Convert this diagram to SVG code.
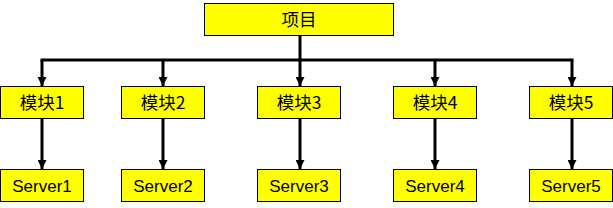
<svg xmlns="http://www.w3.org/2000/svg" width="613" height="208" viewBox="0 0 613 208">
<style>
.box{fill:#ffff00;stroke:#000;stroke-width:1}
.t{font-family:"Liberation Sans","Noto Sans CJK SC",sans-serif;font-size:17px;fill:#000;text-anchor:middle}
.c{font-family:"Noto Sans CJK SC",sans-serif;font-size:17.5px}
.ln{fill:none;stroke:#000;stroke-width:3}
</style>
<defs>
<marker id="ah" viewBox="0 0 10 10" refX="10" refY="5" markerWidth="3" markerHeight="3" orient="auto" markerUnits="strokeWidth">
<path d="M0,0 L10,5 L0,10 z" fill="#000"/>
</marker>
</defs>
<g id="connectors">
<path class="ln" d="M300,35 V60"/>
<path class="ln" d="M40.5,60 H573.5"/>
<path class="ln" d="M42,60 V86" marker-end="url(#ah)"/>
<path class="ln" d="M163,60 V86" marker-end="url(#ah)"/>
<path class="ln" d="M300,60 V86" marker-end="url(#ah)"/>
<path class="ln" d="M435,60 V86" marker-end="url(#ah)"/>
<path class="ln" d="M572,60 V86" marker-end="url(#ah)"/>
<path class="ln" d="M42,118 V169" marker-end="url(#ah)"/>
<path class="ln" d="M163,118 V169" marker-end="url(#ah)"/>
<path class="ln" d="M300,118 V169" marker-end="url(#ah)"/>
<path class="ln" d="M435,118 V169" marker-end="url(#ah)"/>
<path class="ln" d="M572,118 V169" marker-end="url(#ah)"/>
</g>
<g id="root"><rect class="box" x="204.5" y="3.5" width="189" height="32"/><text class="t c" x="299" y="25.5">项目</text></g>
<g id="m1"><rect class="box" x="0.5" y="86.5" width="83" height="32"/><text class="t c" x="42" y="108.5">模块1</text></g>
<g id="m2"><rect class="box" x="121.5" y="86.5" width="83" height="32"/><text class="t c" x="163" y="108.5">模块2</text></g>
<g id="m3"><rect class="box" x="257.5" y="86.5" width="83" height="32"/><text class="t c" x="299" y="108.5">模块3</text></g>
<g id="m4"><rect class="box" x="393.5" y="86.5" width="83" height="32"/><text class="t c" x="435" y="108.5">模块4</text></g>
<g id="m5"><rect class="box" x="529.5" y="86.5" width="83" height="32"/><text class="t c" x="571" y="108.5">模块5</text></g>
<g id="s1"><rect class="box" x="0.5" y="169.5" width="83" height="32"/><text class="t" x="42" y="191.5">Server1</text></g>
<g id="s2"><rect class="box" x="121.5" y="169.5" width="83" height="32"/><text class="t" x="163" y="191.5">Server2</text></g>
<g id="s3"><rect class="box" x="257.5" y="169.5" width="83" height="32"/><text class="t" x="299" y="191.5">Server3</text></g>
<g id="s4"><rect class="box" x="393.5" y="169.5" width="83" height="32"/><text class="t" x="435" y="191.5">Server4</text></g>
<g id="s5"><rect class="box" x="529.5" y="169.5" width="83" height="32"/><text class="t" x="571" y="191.5">Server5</text></g>
</svg>
